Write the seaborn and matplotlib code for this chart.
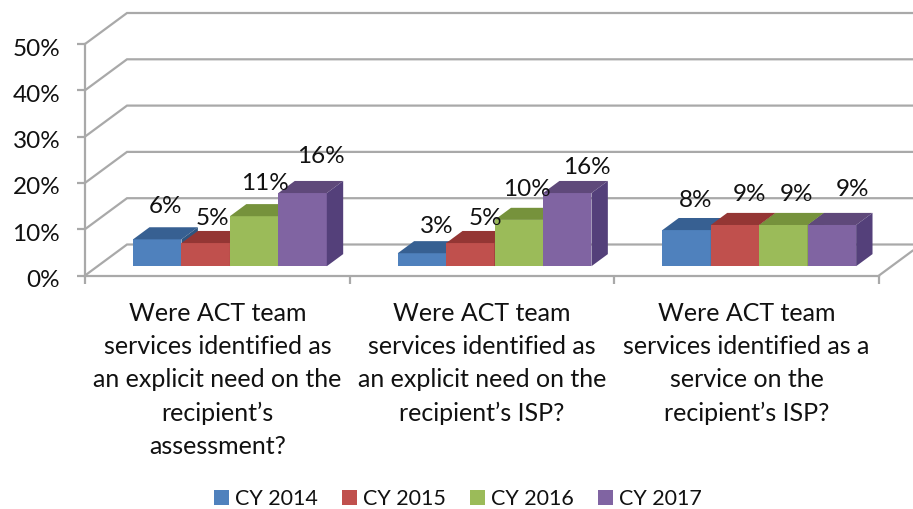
import matplotlib
matplotlib.use("Agg")
import matplotlib.pyplot as plt
import pandas as pd
import seaborn as sns
from matplotlib.patches import Polygon
from matplotlib.transforms import Affine2D

categories = [
    "Were ACT team\nservices identified as\nan explicit need on the\nrecipient\u2019s\nassessment?",
    "Were ACT team\nservices identified as\nan explicit need on the\nrecipient\u2019s ISP?",
    "Were ACT team\nservices identified as a\nservice on the\nrecipient\u2019s ISP?",
]
years = ["CY 2014", "CY 2015", "CY 2016", "CY 2017"]
cy2014 = [0.058, 0.028, 0.078]
cy2015 = [0.050, 0.050, 0.089]
cy2016 = [0.108, 0.100, 0.089]
cy2017 = [0.158, 0.158, 0.089]
y_ticks = [0.0, 0.1, 0.2, 0.3, 0.4, 0.5]

front = ["#4F81BD", "#C0504D", "#9BBB59", "#8064A2"]
top = ["#376092", "#943634", "#76923C", "#5F497A"]
side = ["#2F5580", "#7F2E2C", "#647C33", "#54407A"]
GRID = "#A9A9A9"
INK = "#111111"
W, H = 913, 509
AX_L, AX_R, AX_Y0, AX_Y50 = 85, 879, 233.5, 465

# data label nudges in pixels from the centre of each bar's front-top edge
nudge_x = [[8, 7, 11, 18], [15, 15, 8, 20], [9, 14, 13, 21]]
nudge_y = [[33, 25, 33, 37], [27, 25, 30, 26], [30, 30, 30, 35]]

sns.set_theme(style="white")
plt.rcParams["font.family"] = ["Lato", "DejaVu Sans"]

fig = plt.figure(figsize=(W / 100, H / 100), dpi=100)
ax = fig.add_axes([AX_L / W, AX_Y0 / H, (AX_R - AX_L) / W, (AX_Y50 - AX_Y0) / H])

df = pd.DataFrame({
    "question": categories * 4,
    "year": [y for y in years for _ in categories],
    "value": cy2014 + cy2015 + cy2016 + cy2017,
})
sns.barplot(data=df, x="question", y="value", hue="year", order=categories,
            hue_order=years, palette=front, saturation=1, width=0.732, gap=0,
            dodge=True, ax=ax, linewidth=0, legend=True)

ax.set_xlim(-0.5, 2.5)
ax.set_ylim(0, 0.5)
x_per_px = 3 / (AX_R - AX_L)
y_per_px = 0.5 / (AX_Y50 - AX_Y0)
DX, DY = 42 * x_per_px, 31 * y_per_px   # full depth of the floor in data units
right_edge = -0.5 + (W - AX_L) * x_per_px

# back wall, side wall and floor
for v in y_ticks:
    ax.plot([-0.5, -0.5 + DX, right_edge], [v, v + DY, v + DY], color=GRID, lw=1.6,
            clip_on=False, zorder=1, solid_joinstyle="miter")
ax.plot([2.5, right_edge], [0, (right_edge - 2.5) / DX * DY], color=GRID, lw=1.6,
        clip_on=False, zorder=1)

# 3D bars
start, depth = 0.30, 0.39
series = [cy2014, cy2015, cy2016, cy2017]
bars = []
for h, cont in enumerate(ax.containers):
    for bar in cont:
        g = int(round(bar.get_x() + bar.get_width() / 2))
        bars.append((bar.get_x(), h, g, bar))
bars.sort(key=lambda b: b[0])
for n, (x0, h, g, bar) in enumerate(bars):
    w, v = bar.get_width(), bar.get_height()
    x = x0 + start * DX
    y = start * DY
    bar.set_xy((x, y))
    bar.set_height(v)
    bar.set_clip_on(False)
    bar.set_zorder(3 + n)
    dx, dy = depth * DX, depth * DY
    ax.add_patch(Polygon([(x, y + v), (x + w, y + v), (x + w + dx, y + v + dy), (x + dx, y + v + dy)],
                         closed=True, fc=top[h], ec="none", zorder=3 + n, clip_on=False))
    ax.add_patch(Polygon([(x + w, y), (x + w + dx, y + dy), (x + w + dx, y + v + dy), (x + w, y + v)],
                         closed=True, fc=side[h], ec="none", zorder=3 + n, clip_on=False))
    ax.annotate(f"{series[h][g]:.0%}", xy=(x + w / 2, y + v),
                xytext=(nudge_x[g][h] * 0.72, nudge_y[g][h] * 0.72),
                textcoords="offset points", ha="center", va="center",
                fontsize=17.5, color=INK, zorder=100, annotation_clip=False)

sns.despine(ax=ax, top=True, right=True)
for s in ("left", "bottom"):
    ax.spines[s].set_color(GRID)
    ax.spines[s].set_linewidth(1.6)
    ax.spines[s].set_zorder(2)

ax.set_yticks(y_ticks)
ax.set_yticklabels([f"{v:.0%}" for v in y_ticks])
ax.set_xticks([-0.5, 0.5, 1.5, 2.5], minor=False)
ax.set_xticklabels([])
ax.tick_params(axis="both", length=5.8, width=1.6, color=GRID, left=True, bottom=True,
               labelsize=17.5, labelcolor=INK)
ax.tick_params(axis="y", pad=12)
for lab in ax.get_yticklabels():
    lab.set_transform(lab.get_transform() + Affine2D().translate(0, -3))
ax.set_xlabel("")
ax.set_ylabel("")
for i, label in enumerate(categories):
    ax.annotate(label, xy=(i, 0), xytext=(0, -19), textcoords="offset points",
                ha="center", va="top", fontsize=18, color=INK,
                linespacing=1.54, annotation_clip=False)

handles, labels = ax.get_legend_handles_labels()
ax.legend(handles, labels, loc="center", bbox_to_anchor=(458 / W, 10 / H),
          bbox_transform=fig.transFigure, ncol=4, frameon=False, fontsize=15.5,
          handlelength=0.7, handleheight=0.7, handletextpad=0.28, columnspacing=1.11,
          labelcolor=INK)

fig.savefig("out.png", dpi=100)
